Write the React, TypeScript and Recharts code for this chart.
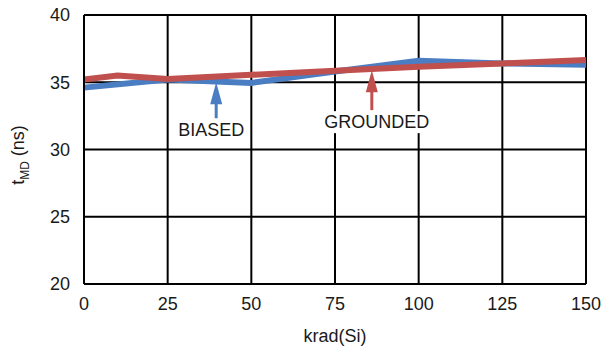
import React from 'react';
import { LineChart, Line, XAxis, YAxis, CartesianGrid, ReferenceDot } from 'recharts';

// dose (krad(Si)) vs tMD (ns)
const biasedDose = [0, 25, 50, 75, 100, 125, 150];
const biasedTmd = [34.6, 35.2, 34.95, 35.8, 36.6, 36.4, 36.3];
const groundedDose = [0, 10, 25, 50, 75, 100, 125, 150];
const groundedTmd = [35.2, 35.5, 35.25, 35.55, 35.85, 36.15, 36.4, 36.65];

const xTicks = [0, 25, 50, 75, 100, 125, 150];
const yTicks = [20, 25, 30, 35, 40];

// arrow tips (data coords) and their labels
const noteNames = ['BIASED', 'GROUNDED'];
const noteDose = [39.5, 86];
const noteTmd = [35.0, 35.9];

const BLUE = '#4a7dc2';
const RED = '#c0504d';
const FONT = 'Liberation Sans, Arial, sans-serif';

const biased = biasedDose.map((x, i) => ({ x, y: biasedTmd[i] }));
const grounded = groundedDose.map((x, i) => ({ x, y: groundedTmd[i] }));

function Arrow({ cx, cy, color, text, dx, dy, shaft }: any) {
  const w = text.length * 11.6 + 6;
  return (
    <g>
      <line x1={cx} y1={cy + 18} x2={cx} y2={cy + shaft} stroke={color} strokeWidth={3} />
      <polygon points={`${cx},${cy} ${cx - 6},${cy + 22} ${cx + 6},${cy + 22}`} fill={color} />
      <rect x={cx + dx - w / 2} y={cy + dy - 11} width={w} height={22} fill="#fff" />
      <text x={cx + dx} y={cy + dy} textAnchor="middle" dominantBaseline="central" fontSize={18} fontFamily={FONT} fill="#1a1a1a">
        {text}
      </text>
    </g>
  );
}

function YLabel() {
  return (
    <text transform="translate(24,155) rotate(-90)" textAnchor="middle" fontSize={18} fontFamily={FONT} fill="#1a1a1a">
      t<tspan fontSize={12} dy={5}>MD</tspan><tspan dy={-5}> (ns)</tspan>
    </text>
  );
}

export default function App() {
  const tick = { fill: '#1a1a1a', fontSize: 18, fontFamily: FONT };
  return (
    <div style={{ position: 'absolute', left: 0, top: 0, width: 602, height: 351, background: '#fff' }}>
      <LineChart width={602} height={351} margin={{ top: 15, right: 16, left: 0, bottom: 27 }}>
        <CartesianGrid stroke="#000" strokeWidth={2} horizontalValues={yTicks} verticalValues={xTicks} />
        <XAxis type="number" dataKey="x" domain={[0, 150]} ticks={xTicks} tick={tick} tickLine={false}
          axisLine={{ stroke: '#000', strokeWidth: 2 }} tickMargin={7} height={40}
          label={{ value: 'krad(Si)', position: 'insideBottom', offset: -18, fill: '#1a1a1a', fontSize: 18, fontFamily: FONT }} />
        <YAxis type="number" domain={[20, 40]} ticks={yTicks} tick={tick} tickLine={false}
          axisLine={{ stroke: '#000', strokeWidth: 2 }} tickMargin={8} width={84} label={<YLabel />} />
        <Line data={biased} dataKey="y" stroke={BLUE} strokeWidth={6} dot={false} isAnimationActive={false} type="linear" />
        <Line data={grounded} dataKey="y" stroke={RED} strokeWidth={6} dot={false} isAnimationActive={false} type="linear" />
        <ReferenceDot x={noteDose[0]} y={noteTmd[0]} r={0}
          shape={(p: any) => <Arrow cx={p.cx} cy={p.cy} color={BLUE} text={noteNames[0]} dx={-5} dy={48} shaft={36} />} />
        <ReferenceDot x={noteDose[1]} y={noteTmd[1]} r={0}
          shape={(p: any) => <Arrow cx={p.cx} cy={p.cy} color={RED} text={noteNames[1]} dx={5} dy={52} shaft={40} />} />
      </LineChart>
    </div>
  );
}
